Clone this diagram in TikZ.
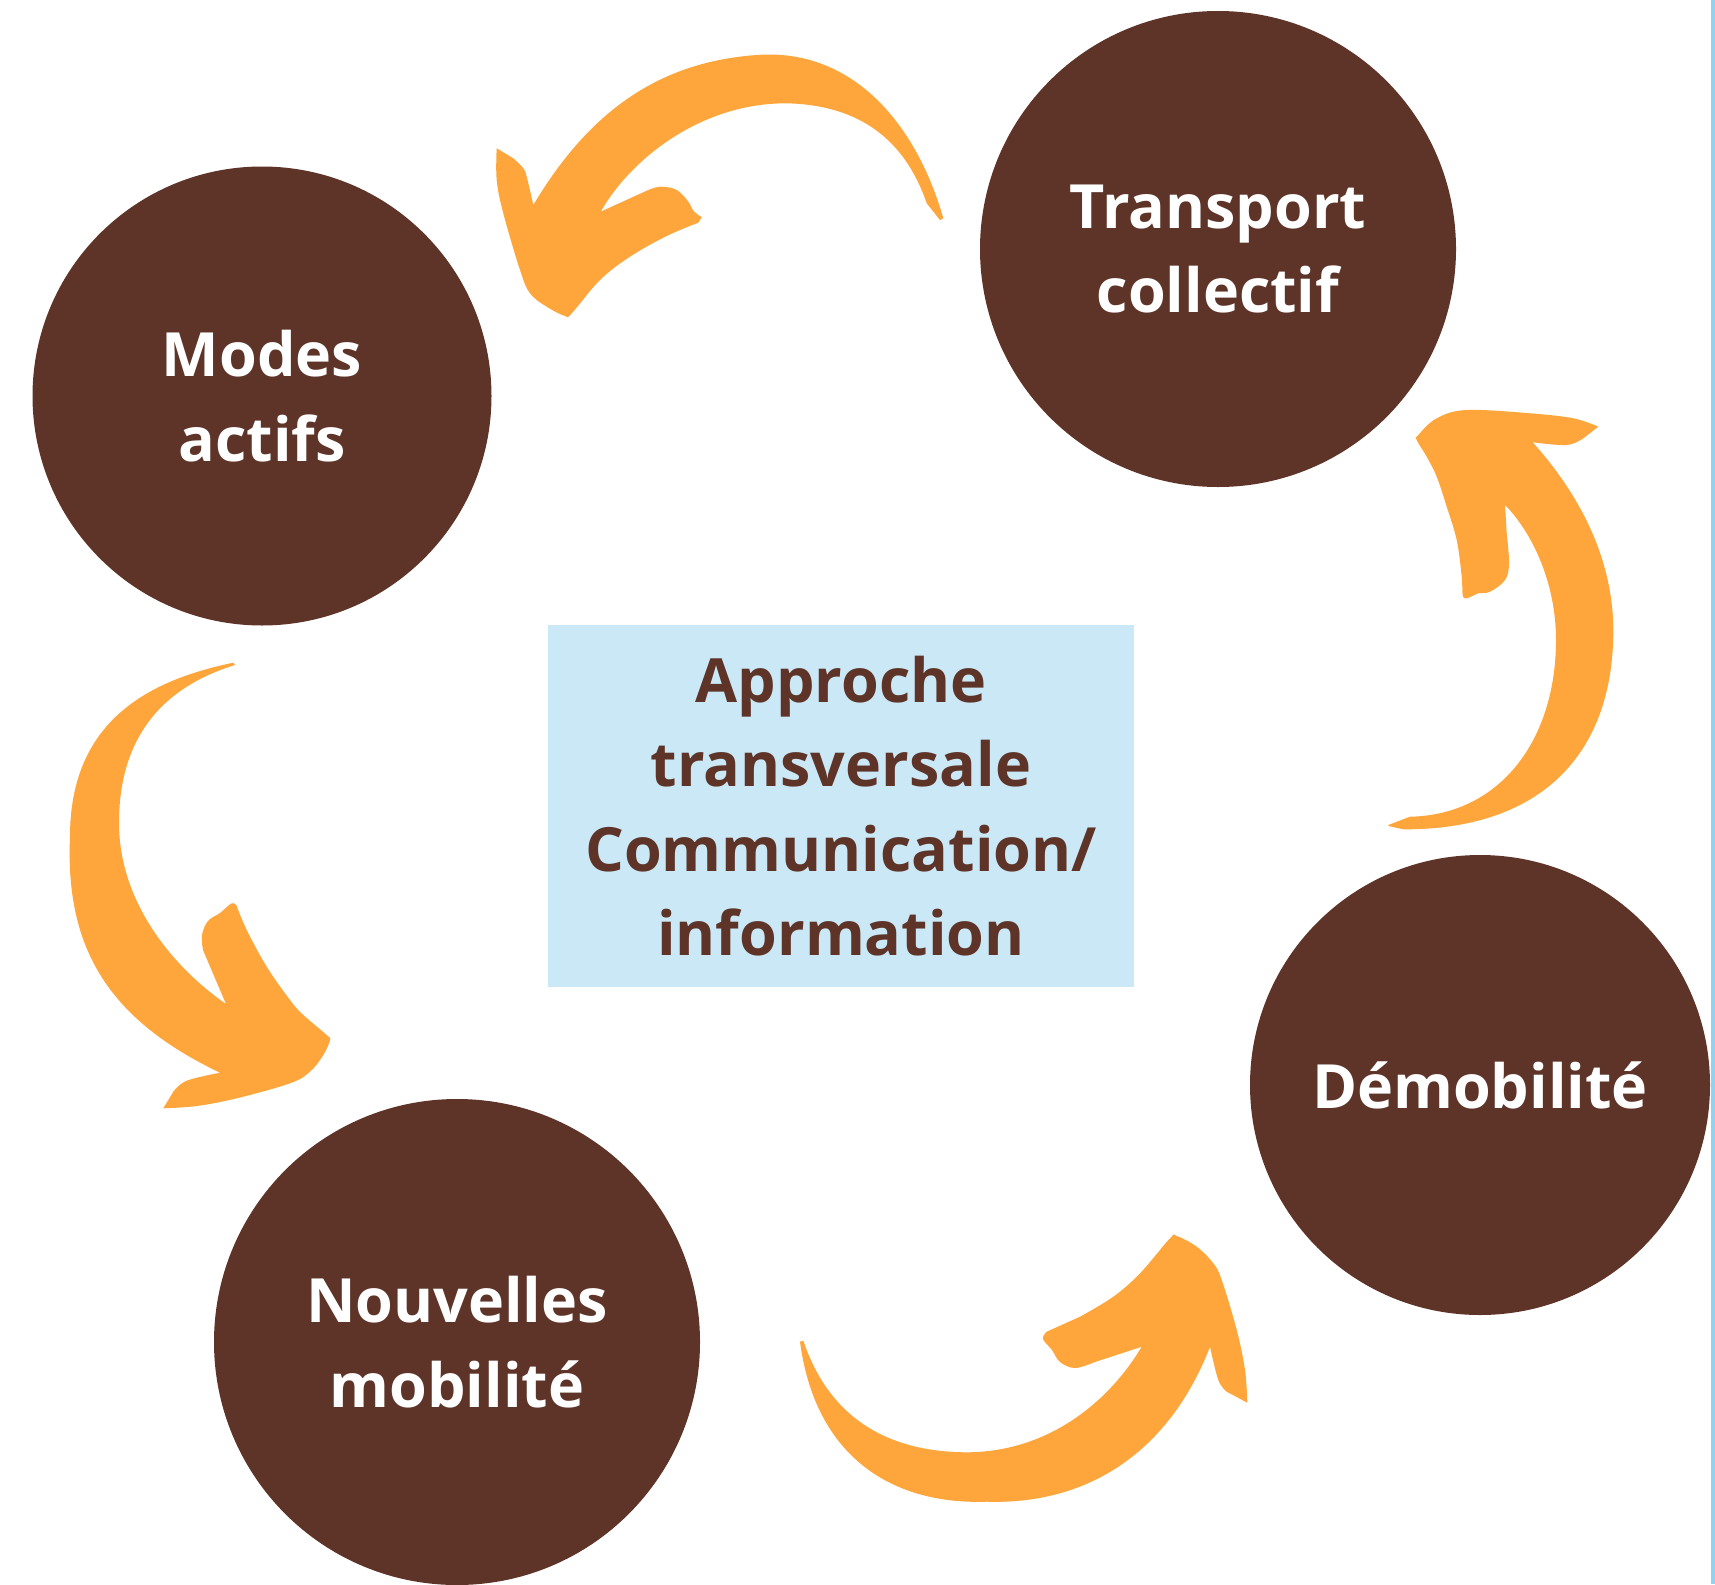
\documentclass[tikz,border=0pt]{standalone}
\usepackage{fontspec}
\setmainfont{Open Sans}
\definecolor{brownc}{HTML}{5E3428}
\definecolor{orangec}{HTML}{FEA63B}
\definecolor{boxblue}{HTML}{CAE8F6}
\definecolor{edgeblue}{HTML}{8FD3F1}
\newcommand{\diagfont}{\fontsize{61}{84.5}\selectfont\bfseries}
\begin{document}
\begin{tikzpicture}[x=1pt,y=-1pt,
  bubble/.style={circle, fill=brownc, inner sep=0pt, text=white, align=center, font=\diagfont},
  centerbox/.style={fill=boxblue, inner sep=0pt, text=brownc, align=center, font=\diagfont},
  brush/.style={fill=orangec}]
\useasboundingbox (0,0) rectangle (1715,1584);
\fill[white] (0,0) rectangle (1715,1584);
\fill[edgeblue] (1711,0) rectangle (1715,1584);

% circles
\node[bubble, minimum size=459pt] (modes) at (262,396) {Modes\\actifs};
\node[bubble, minimum size=476pt] (transport) at (1218,249) {Transport\\collectif};
\node[bubble, minimum size=460pt] (demob) at (1480,1085) {Démobilité};
\node[bubble, minimum size=486pt] (nouv) at (457,1342) {Nouvelles\\mobilité};

% central box
\node[centerbox, minimum width=586pt, minimum height=362pt] (approche) at (841,806)
  {Approche\\transversale\\Communication/\\information};

% arrow: Transport -> Modes (top)
\fill[brush] (533.3,205) .. controls (590,110) and (660,62) .. (756.7,55)
  .. controls (850,48) and (915,120) .. (943.3,218.3)
  -- (940,220) -- (926.7,203.3)
  .. controls (905,140) and (860,105) .. (786.7,103.3)
  .. controls (700,103) and (630,160) .. (600.7,211.7)
  -- plot[smooth, tension=0.6] coordinates {(646.7,190.7)(660,186.7)(676.7,190)(688.3,201.7)(693.3,210.7)(701.7,217.3)}
  -- plot[smooth, tension=0.6] coordinates {(698.3,222.7)(666.7,236)(630,256.7)(600,280)(571.7,313.3)(565,316)(546.7,306.7)(530,293.3)(520,270)(503.3,213.3)(496.7,180)(496.7,148.3)}
  -- plot[smooth, tension=0.6] coordinates {(513.3,158.3)(523.3,168.3)(526.7,176.7)(533.3,205)}
  -- cycle;

% arrow: Demobilite -> Transport (right)
\fill[brush] (1388.3,825) -- (1410,816.7)
  .. controls (1500,815) and (1556,740) .. (1556,640)
  .. controls (1556,580) and (1530,530) .. (1505,505)
  -- plot[smooth, tension=0.6] coordinates {(1506.7,533.3)(1509,563.3)(1505,580)(1490,591.7)(1478.3,593.3)(1466.7,598.3)(1462.7,595)(1461.7,576.7)(1456.7,540)(1446.7,506.7)(1436.7,476.7)(1426.7,456.7)(1416.7,440)(1418.3,435)(1436.7,418.3)(1466.7,410)(1530,413.3)(1573.3,418.3)(1598.3,426.7)}
  -- plot[smooth, tension=0.6] coordinates {(1583.3,438.3)(1566.7,445)(1532.7,442.3)}
  .. controls (1580,495) and (1614,560) .. (1613.3,633.3)
  .. controls (1612,760) and (1535,830) .. (1403.3,829.3)
  -- (1388.3,826) -- cycle;

% arrow: Modes -> Nouvelles (left)
\fill[brush] (233.3,662.7) -- (235,665)
  .. controls (170,685) and (119,730) .. (119,823)
  .. controls (119,900) and (170,965) .. (226,1004)
  -- (203,950)
  -- plot[smooth, tension=0.6] coordinates {(203,950)(202,935)(208,921)(220,913)(231.7,903.3)(236.7,906)}
  -- plot[smooth, tension=0.6] coordinates {(236.7,906)(246.7,930)(266.7,966.7)(290,1000)(303.3,1015)(326.7,1035)(330,1040)(323.3,1055)(310,1071.7)(290,1083.3)(236.7,1098.3)(196.7,1106)(163.3,1108.3)}
  -- plot[smooth, tension=0.6] coordinates {(173.3,1091.7)(186.7,1080.7)(220,1072.7)}
  .. controls (110,1020) and (65,950) .. (70,836.7)
  .. controls (70,720) and (150,680) .. (233.3,662.7)
  -- cycle;

% arrow: Nouvelles -> Demobilite (bottom)
\fill[brush] (800,1341.7) -- (803.3,1340.7)
  .. controls (830,1420) and (890,1452) .. (966.7,1452.3)
  .. controls (1050,1452) and (1110,1400) .. (1141.7,1346.7)
  -- (1095,1362)
  -- plot[smooth, tension=0.6] coordinates {(1095,1362)(1075,1368)(1060,1362)(1052,1350)(1043,1339)(1046.7,1331.7)}
  -- plot[smooth, tension=0.6] coordinates {(1080,1316.7)(1113.3,1296.7)(1140,1273.3)(1170,1238.3)(1176.7,1236)(1196.7,1246.7)(1213.3,1263.3)(1221.7,1280)(1236.7,1330)(1245,1370)(1247.3,1402.7)}
  -- plot[smooth, tension=0.6] coordinates {(1226.7,1391.7)(1218.3,1380)(1210,1346.7)}
  .. controls (1170,1450) and (1090,1505) .. (986.7,1501.7)
  .. controls (890,1505) and (815,1455) .. (800,1341.7)
  -- cycle;
\end{tikzpicture}
\end{document}
